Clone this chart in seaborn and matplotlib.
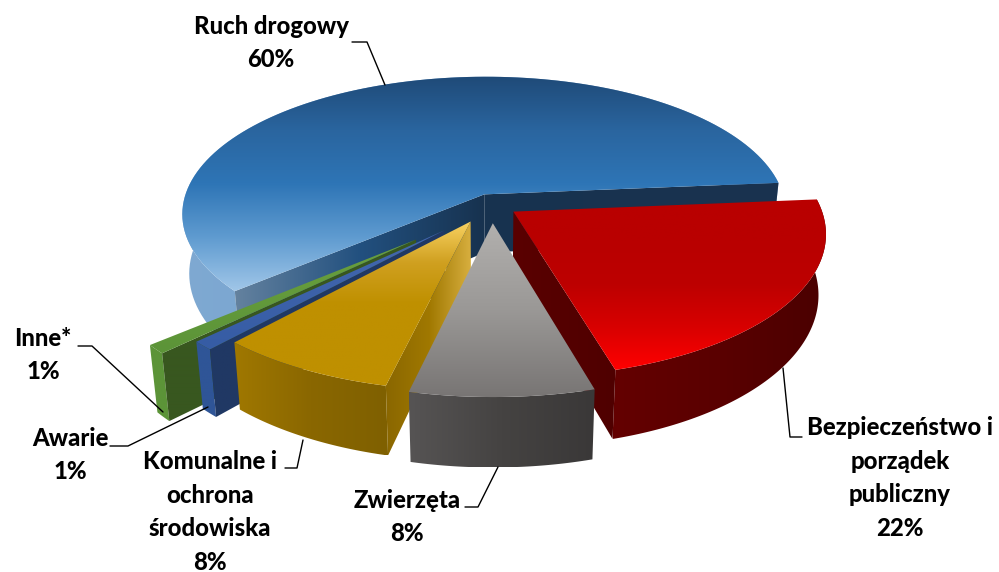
import numpy as np
import seaborn as sns
import matplotlib
from matplotlib import pyplot as plt
from matplotlib.patches import Polygon

matplotlib.use('Agg')

labels = ["Ruch drogowy\n60%", "Inne*\n1%", "Awarie\n1%",
          "Komunalne i\nochrona\nśrodowiska\n8%", "Zwierzęta\n8%",
          "Bezpieczeństwo i\nporządek\npubliczny\n22%"]
values = [60, 1, 1, 8, 8, 22]
explode = [0.11, 0.33, 0.22, 0.11, 0.11, 0.11]
radii = [1.01, 1, 1, 1.03, 1.05, 1.02]
nudge_x = [6, 0, 0, -5, 1, -5]
nudge_y = [0, 0, 0, 0, 0, -5]

# gradients for each slice: top, outer wall, start wall, end wall
top_colors = [["#1f4a78", "#2a659f", "#2e75b6", "#5f9bd0", "#a0c6e8"],
              ["#6aa03e", "#5c9438"],
              ["#4468b0", "#365ca4"],
              ["#f8d262", "#d0a020", "#bf9000", "#bf9000", "#bf9000"],
              ["#b2b0ae", "#9a9896", "#787574"],
              ["#b90000", "#b90000", "#bd0000", "#d80000", "#ff0000"]]
wall_colors = [["#7fa9d2", "#6f9fcc", "#88a6c6"],
               ["#5c9438", "#5c9438"],
               ["#2f5597", "#2f5597"],
               ["#a07800", "#8a6700", "#7f6000"],
               ["#565454", "#454342", "#3a3838"],
               ["#640000", "#5a0000", "#4a0000"]]
start_walls = [["#17324f", "#1a3350"], ["#38571f", "#38571f"], ["#1f3a68", "#1f3a68"],
               ["#8a6700", "#8a6700"], ["#454342", "#454342"], ["#5a0000", "#4f0000"]]
end_walls = [["#64829f", "#22507f", "#17324f"], ["#38571f", "#38571f"], ["#203864", "#203864"],
             ["#8a6700", "#a07800", "#d9b040"], ["#454342", "#454342"], ["#5a0000", "#4f0000"]]

start_angle = 5
radius = 300
squash = 0.455
persp = 0.14
height = 59
converge = 0.022
cx, cy = 491, 208


def project(x, y, z=0.0):
    s = 1 / (1 + persp * y)
    return radius * x * s * (1 - converge * z) + cx, cy - radius * squash * y * s + height * z * s


def grad(ax, verts, colors, vertical=True):
    verts = np.array(verts)
    cmap = sns.blend_palette(colors, n_colors=256, as_cmap=True)
    x0, y0 = verts.min(axis=0)
    x1, y1 = verts.max(axis=0)
    g = np.linspace(0, 1, 256)
    g = g[:, None] if vertical else g[None, :]
    im = ax.imshow(g, cmap=cmap, extent=(x0, x1, y1, y0), aspect='auto', interpolation='bilinear', zorder=ax.zcount)
    im.set_clip_path(Polygon(verts, closed=True, transform=ax.transData))
    ax.zcount += 1


sns.set_theme(style="white")
plt.rcParams['font.family'] = ['Lato', 'DejaVu Sans']

fig = plt.figure(figsize=(9.99, 5.72), dpi=100)
ax = fig.add_axes([0, 0, 1, 1])
ax.zcount = 1

starts = start_angle + np.cumsum([0] + values[:-1]) * 3.6
ends = starts + np.array(values) * 3.6

# back slice first, then the near ones so they cover it
for i in [0, 5, 1, 2, 3, 4]:
    a0, a1 = np.radians(starts[i]), np.radians(ends[i])
    mid = (a0 + a1) / 2
    ox, oy = explode[i] * np.cos(mid), explode[i] * np.sin(mid)
    t = np.linspace(a0, a1, 120)
    ax_, ay_ = ox + radii[i] * np.cos(t), oy + radii[i] * np.sin(t)
    tx, ty = project(ax_, ay_)
    bx, by = project(ax_, ay_, 1)
    px, py = project(ox, oy)
    qx, qy = project(ox, oy, 1)
    tx, bx = tx + nudge_x[i], bx + nudge_x[i]
    px, qx = px + nudge_x[i], qx + nudge_x[i]
    ty, by = ty + nudge_y[i], by + nudge_y[i]
    py, qy = py + nudge_y[i], qy + nudge_y[i]
    top = list(zip(tx, ty)) + [(px, py)]
    outer = list(zip(tx, ty)) + list(zip(bx[::-1], by[::-1]))
    wall_a = [(px, py), (tx[0], ty[0]), (bx[0], by[0]), (qx, qy)]
    wall_b = [(px, py), (tx[-1], ty[-1]), (bx[-1], by[-1]), (qx, qy)]
    grad(ax, outer, wall_colors[i], vertical=False)
    # only the radial walls that face the viewer
    if np.cos(a0) > 0:
        grad(ax, wall_a, start_walls[i], vertical=False)
    if np.cos(a1) < 0:
        grad(ax, wall_b, end_walls[i], vertical=False)
    grad(ax, top, top_colors[i])

# leader lines
leaders = [([352, 367, 385], [42, 42, 85]),
           ([78, 92, 163], [346, 346, 412]),
           ([110, 128, 208], [446, 446, 407]),
           ([285, 297, 303], [468, 468, 440]),
           ([465, 478, 498], [507, 507, 467]),
           ([802, 790, 783], [437, 437, 368])]
for lx, ly in leaders:
    ax.plot(lx, ly, color="black", lw=1, zorder=ax.zcount)

label_pos = [(271, 43), (43, 355), (70, 455), (210, 512), (407, 517), (900, 478)]
for lab, (x, y) in zip(labels, label_pos):
    ax.text(x, y, lab, ha='center', va='center', fontsize=17.2, fontweight='black',
            color="black", linespacing=1.55, zorder=ax.zcount + 1)

ax.set_xlim(0, 999)
ax.set_ylim(572, 0)
ax.axis('off')

plt.savefig("out.png", dpi=100)
